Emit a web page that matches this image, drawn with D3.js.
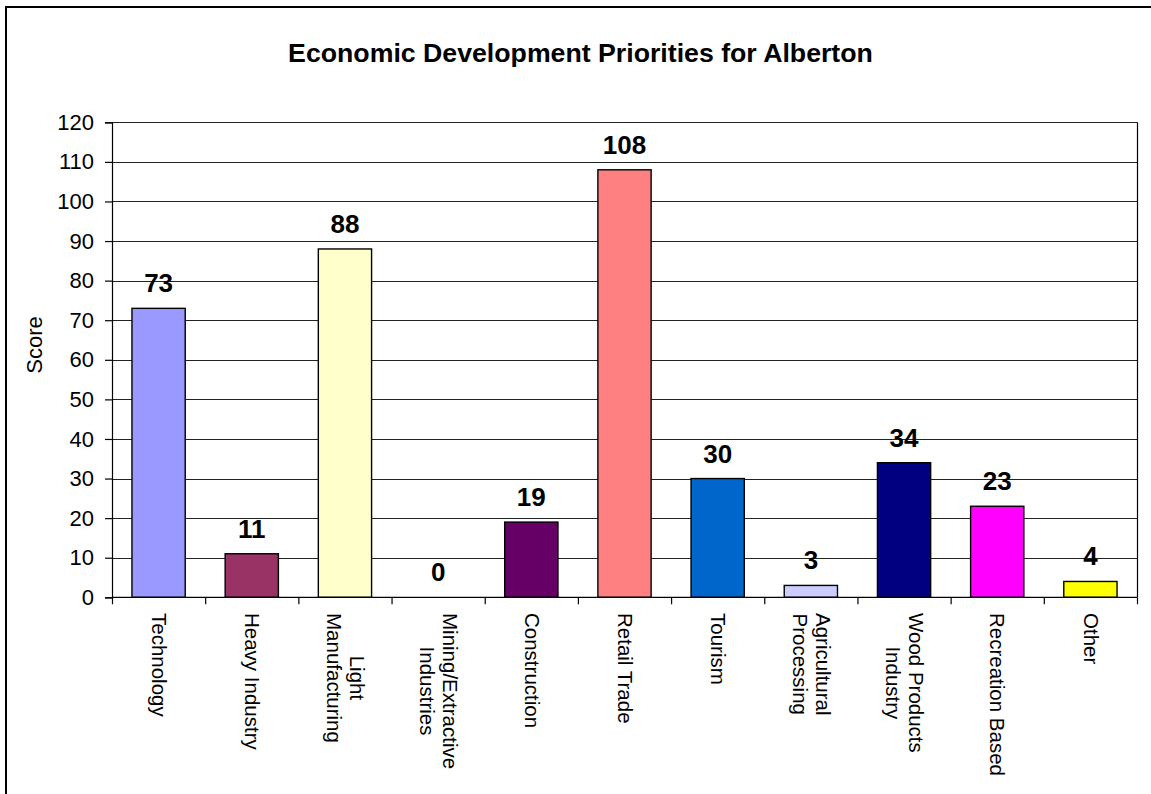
<!DOCTYPE html>
<html>
<head>
<meta charset="utf-8">
<script src="https://cdn.jsdelivr.net/npm/d3@7"></script>
<style>
  html, body { margin: 0; padding: 0; background: #fff; }
  svg { display: block; }
  text { font-family: Arial, "Liberation Sans", sans-serif; fill: #000; }
</style>
</head>
<body>
<script>
// Survey scores by sector
const categories = [
  "Technology", "Heavy Industry", "Light\nManufacturing", "Mining/Extractive\nIndustries",
  "Construction", "Retail Trade", "Tourism", "Agricultural\nProcessing",
  "Wood Products\nIndustry", "Recreation Based", "Other"
];
const scores = [73, 11, 88, 0, 19, 108, 30, 3, 34, 23, 4];
const barColors = [
  "#9999FF", "#993366", "#FFFFCC", "#CCFFFF", "#660066", "#FF8080",
  "#0066CC", "#CCCCFF", "#000080", "#FF00FF", "#FFFF00"
];
const yTicks = [0, 10, 20, 30, 40, 50, 60, 70, 80, 90, 100, 110, 120];
const chartTitle = "Economic Development Priorities for Alberton";
const yAxisTitle = "Score";

const rows = categories.map((c, i) => ({ cat: c, value: scores[i], color: barColors[i] }));

const W = 1151, H = 794;
const plot = { left: 112, right: 1137, top: 122.3, bottom: 597.3 };

const svg = d3.select("body").append("svg")
  .attr("width", W).attr("height", H);

svg.append("rect").attr("width", W).attr("height", H).attr("fill", "#fff");

// outer chart frame (runs off the right and bottom edges)
svg.append("rect")
  .attr("x", 6).attr("y", 7)
  .attr("width", 1300).attr("height", 1000)
  .attr("fill", "none").attr("stroke", "#000").attr("stroke-width", 2);

const x = d3.scaleBand().domain(categories).range([plot.left, plot.right]).padding(0);
const xSlots = d3.scaleLinear().domain([0, categories.length]).range([plot.left, plot.right]);
const y = d3.scaleLinear().domain([0, 120]).range([plot.bottom, plot.top]);

// Excel-style gap width of 75%
const barW = x.bandwidth() / 1.75;

// horizontal gridlines
svg.append("g").selectAll("line").data(yTicks.filter(t => t > 0)).join("line")
  .attr("x1", plot.left).attr("x2", plot.right)
  .attr("y1", d => Math.round(y(d)) + 0.5).attr("y2", d => Math.round(y(d)) + 0.5)
  .attr("stroke", "#222").attr("stroke-width", 1);

// right edge of plot area
svg.append("line")
  .attr("x1", plot.right + 0.5).attr("x2", plot.right + 0.5)
  .attr("y1", plot.top).attr("y2", plot.bottom)
  .attr("stroke", "#000").attr("stroke-width", 1.2);

// bars (a zero score draws nothing)
svg.append("g").selectAll("rect").data(rows.filter(d => d.value > 0)).join("rect")
  .attr("x", d => x(d.cat) + (x.bandwidth() - barW) / 2)
  .attr("y", d => y(d.value))
  .attr("width", barW)
  .attr("height", d => y(0) - y(d.value))
  .attr("fill", d => d.color)
  .attr("stroke", "#000").attr("stroke-width", 1.4);

// y axis
const yAxis = svg.append("g")
  .attr("transform", `translate(${plot.left},0)`)
  .call(d3.axisLeft(y).tickValues(yTicks).tickSize(7).tickPadding(11));
yAxis.select(".domain").attr("stroke", "#000").attr("stroke-width", 1.2);
yAxis.selectAll(".tick line").attr("stroke", "#000").attr("stroke-width", 1.2);
yAxis.selectAll(".tick text")
  .style("font-size", "22px").style("font-family", "Arial, 'Liberation Sans', sans-serif")
  .attr("fill", "#000");

// x axis with ticks between categories
const xAxis = svg.append("g")
  .attr("transform", `translate(0,${plot.bottom})`)
  .call(d3.axisBottom(xSlots).tickValues(d3.range(categories.length + 1)).tickSize(7).tickFormat(""));
xAxis.select(".domain").attr("stroke", "#000").attr("stroke-width", 1.2)
  .attr("d", `M${plot.left},0H${plot.right}`);
xAxis.selectAll(".tick line").attr("stroke", "#000").attr("stroke-width", 1.2);

// value labels above bars
svg.append("g").selectAll("text").data(rows).join("text")
  .attr("x", d => x(d.cat) + x.bandwidth() / 2)
  .attr("y", d => y(d.value) - 16)
  .attr("text-anchor", "middle")
  .style("font-size", "26px").style("font-weight", "bold")
  .text(d => d.value);

// rotated category labels
const catFont = 20.5, lineH = 23, labelTop = 613;
rows.forEach(d => {
  const lines = d.cat.split("\n");
  const g = svg.append("g")
    .attr("transform", `translate(${x(d.cat) + x.bandwidth() / 2},${labelTop}) rotate(90)`);
  const texts = lines.map((ln, k) => g.append("text")
    .attr("y", (k - (lines.length - 1) / 2) * lineH)
    .attr("dy", "0.33em")
    .style("font-size", catFont + "px")
    .text(ln));
  const maxW = d3.max(texts, t => t.node().getComputedTextLength());
  texts.forEach(t => t.attr("x", maxW / 2).attr("text-anchor", "middle"));
});

// axis title
svg.append("text")
  .attr("transform", `translate(41.5,345) rotate(-90)`)
  .attr("text-anchor", "middle")
  .style("font-size", "22px")
  .text(yAxisTitle);

// chart title
svg.append("text")
  .attr("x", 580.5).attr("y", 62)
  .attr("text-anchor", "middle")
  .style("font-size", "26.7px").style("font-weight", "bold")
  .text(chartTitle);
</script>
</body>
</html>
